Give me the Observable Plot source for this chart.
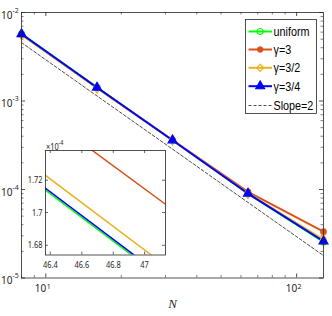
<!DOCTYPE html>
<html><head><meta charset="utf-8">
<script src="https://cdn.jsdelivr.net/npm/d3@7"></script>
<script src="https://cdn.jsdelivr.net/npm/@observablehq/plot@0.6"></script>
<style>
body{margin:0;background:#fff}
#chart{position:relative;width:332px;height:316px;overflow:hidden;font-family:"Liberation Sans",Arial,sans-serif}
#chart svg{position:absolute;left:0;top:0}
</style></head><body><div id="chart"></div>
<script>
// ---- data ----
const N = [8, 16, 32, 64, 128];
const uniform  = [5.75e-3, 1.43e-3, 3.599e-4, 8.996e-5, 2.55e-5];
const gamma3   = [5.62e-3, 1.41e-3, 3.629e-4, 9.39e-5, 3.34e-5];
const gamma3_2 = [5.62e-3, 1.40e-3, 3.618e-4, 9.045e-5, 2.72e-5];
const gamma3_4 = [5.72e-3, 1.42e-3, 3.601e-4, 9.003e-5, 2.60e-5];
const slope2   = [4.57e-3, 1.14e-3, 2.86e-4, 7.14e-5, 1.79e-5];
const seriesNames = ["uniform", "γ=3", "γ=3/2", "γ=3/4"];
const slopeName = "Slope=2";
const colors = ["#00ff00", "#d95319", "#edb120", "#0000ff"];
const xTicks = [10, 100];
const yTicks = [1e-5, 1e-4, 1e-3, 1e-2];
const xLabel = "N";
const insetXTicks = [46.4, 46.6, 46.8, 47];
const insetYTicks = [1.68e-4, 1.70e-4, 1.72e-4];
const insetXDomain = [46.37, 47.134];
const insetYDomain = [1.6741e-4, 1.7386e-4];
const insetExponent = "-4";

// ---- build tables ----
const seriesValues = [uniform, gamma3, gamma3_2, gamma3_4];
const rows = [];
seriesNames.forEach((s, i) => N.forEach((n, j) => rows.push({series: s, N: n, err: seriesValues[i][j]})));
const slopeRows = N.map((n, j) => ({N: n, err: slope2[j]}));
const bySeries = s => rows.filter(r => r.series === s);

const minorX = [];
for (const base of [1, 10]) for (let m = 2; m <= 9; m++) { const v = m * base; if (v >= 8 && v <= 128 && !xTicks.includes(v)) minorX.push(v); }
const minorY = [];
for (const base of [1e-5, 1e-4, 1e-3]) for (let m = 2; m <= 9; m++) minorY.push(m * base);

const W = 332, H = 316;
const mL = 21, mR = 9, mT = 12, mB = 38.5;
const pW = W - mL - mR, pH = H - mT - mB;
const axisColor = "#262626";
const majorLen = 4, minorLen = 2.5;

const tickMarks = (xs, ys, len, plotW, plotH, sw) => [
  Plot.ruleX(xs, {x: d => d, insetTop: plotH - len, stroke: axisColor, strokeWidth: sw}),
  Plot.ruleX(xs, {x: d => d, insetBottom: plotH - len, stroke: axisColor, strokeWidth: sw}),
  Plot.ruleY(ys, {y: d => d, insetRight: plotW - len, stroke: axisColor, strokeWidth: sw}),
  Plot.ruleY(ys, {y: d => d, insetLeft: plotW - len, stroke: axisColor, strokeWidth: sw})
];

const main = Plot.plot({
  width: W, height: H, marginLeft: mL, marginRight: mR, marginTop: mT, marginBottom: mB,
  style: "background:transparent;overflow:visible",
  x: {type: "log", domain: [8, 128], axis: null},
  y: {type: "log", domain: [1e-5, 1e-2], axis: null},
  color: {domain: seriesNames, range: colors},
  marks: [
    ...tickMarks(xTicks, yTicks, majorLen, pW, pH, 0.8),
    ...tickMarks(minorX, minorY, minorLen, pW, pH, 0.6),
    Plot.line(rows, {x: "N", y: "err", stroke: "series", z: "series", strokeWidth: 2}),
    Plot.dot(bySeries(seriesNames[0]), {x: "N", y: "err", r: 3, stroke: colors[0], fill: "none", strokeWidth: 1.2}),
    Plot.dot(bySeries(seriesNames[1]), {x: "N", y: "err", r: 2.6, fill: colors[1], stroke: colors[1]}),
    Plot.dot(bySeries(seriesNames[2]), {x: "N", y: "err", symbol: "diamond", r: 3.2, stroke: colors[2], fill: "none", strokeWidth: 1.2}),
    Plot.dot(bySeries(seriesNames[3]), {x: "N", y: "err", symbol: "triangle", r: 3.3, stroke: colors[3], fill: colors[3], strokeWidth: 1.2}),
    Plot.line(slopeRows, {x: "N", y: "err", stroke: "#000", strokeWidth: 0.7, strokeDasharray: "3,2"}),
    Plot.frame({stroke: axisColor, strokeWidth: 0.8}),
    // y tick labels 10^k
    Plot.text(yTicks, {y: d => d, frameAnchor: "left", text: () => "10", textAnchor: "end", dx: -9, dy: 3, fontSize: 10, fill: axisColor}),
    Plot.text(yTicks, {y: d => d, frameAnchor: "left", text: d => String(Math.round(Math.log10(d))), textAnchor: "start", dx: -9, dy: -2, fontSize: 7, fill: axisColor}),
    // x tick labels
    Plot.text(xTicks, {x: d => d, frameAnchor: "bottom", text: () => "10", textAnchor: "end", dx: 0.5, dy: 14, fontSize: 10, fill: axisColor}),
    Plot.text(xTicks, {x: d => d, frameAnchor: "bottom", text: d => String(Math.round(Math.log10(d))), textAnchor: "start", dx: 1, dy: 10.5, fontSize: 7, fill: axisColor}),
    Plot.text([xLabel], {frameAnchor: "bottom", text: d => d, dy: 30, fontSize: 13, fontStyle: "italic", fontFamily: "Liberation Serif, serif", fill: axisColor})
  ]
});

// ---- inset ----
const iL = 45, iR = 165, iT = 150, iB = 254.5;
const ipW = iR - iL, ipH = iB - iT;
const inset = Plot.plot({
  width: W, height: H, marginLeft: iL, marginRight: W - iR, marginTop: iT, marginBottom: H - iB,
  style: "background:transparent;overflow:visible",
  x: {type: "log", domain: insetXDomain, axis: null},
  y: {type: "log", domain: insetYDomain, axis: null},
  color: {domain: seriesNames, range: colors},
  marks: [
    Plot.frame({fill: "white", stroke: "none"}),
    Plot.line(rows, {x: "N", y: "err", stroke: "series", z: "series", strokeWidth: 1.5, clip: true}),
    ...tickMarks(insetXTicks, insetYTicks, 3, ipW, ipH, 0.7),
    Plot.frame({stroke: axisColor, strokeWidth: 0.8}),
    Plot.text(insetYTicks, {y: d => d, frameAnchor: "left", text: d => String(+(d * 1e4).toFixed(2)), textAnchor: "end", dx: -3, fontSize: 9.5, fill: axisColor, className: "sq"}),
    Plot.text(insetXTicks, {x: d => d, frameAnchor: "bottom", text: d => String(d), dy: 13, fontSize: 9.5, fill: axisColor, className: "sq"}),
    Plot.text(["×10"], {frameAnchor: "top-left", text: d => d, textAnchor: "start", dx: 0.5, dy: -7, fontSize: 9.5, fill: axisColor, className: "sq"}),
    Plot.text([insetExponent], {frameAnchor: "top-left", text: d => d, textAnchor: "start", dx: 13, dy: -10.5, fontSize: 7, fill: axisColor, className: "sq"})
  ]
});

const chart = document.getElementById("chart");
chart.appendChild(main);
chart.appendChild(inset);

// horizontally condense inset text
function squeeze(root, k) {
  root.querySelectorAll("text").forEach(t => {
    const anchor = getComputedStyle(t).textAnchor;
    const g = document.createElementNS("http://www.w3.org/2000/svg", "g");
    t.parentNode.insertBefore(g, t); g.appendChild(t);
    const b = g.getBBox();
    const px = anchor === "end" ? b.x + b.width : anchor === "middle" ? b.x + b.width / 2 : b.x;
    g.setAttribute("transform", `translate(${px},0) scale(${k},1) translate(${-px},0)`);
  });
}
squeeze(inset, 0.78);

// ---- legend (d3) ----
const leg = d3.select(chart).append("svg").attr("width", W).attr("height", H);
const lx = 245.5, ly = 19.5, lw = 71, lh = 94;
leg.append("rect").attr("x", lx).attr("y", ly).attr("width", lw).attr("height", lh)
  .attr("fill", "white").attr("stroke", axisColor).attr("stroke-width", 0.8);
const entryY = [31.5, 49.5, 67.8, 86.2, 105.5];
const symbols = [
  {type: d3.symbolCircle, r: 3, fill: "none"},
  {type: d3.symbolCircle, r: 2.6, fill: colors[1]},
  {type: d3.symbolDiamond2, r: 3.2, fill: "none"},
  {type: d3.symbolTriangle, r: 3.3, fill: colors[3]}
];
const labels = [...seriesNames, slopeName];
labels.forEach((name, i) => {
  const y = entryY[i];
  const isSlope = i === 4;
  leg.append("line").attr("x1", 248.5).attr("x2", 272).attr("y1", y).attr("y2", y)
    .attr("stroke", isSlope ? "#000" : colors[i]).attr("stroke-width", isSlope ? 0.7 : 2)
    .attr("stroke-dasharray", isSlope ? "3,2" : null);
  if (!isSlope) {
    const s = symbols[i];
    leg.append("path").attr("d", d3.symbol(s.type, Math.PI * s.r * s.r)())
      .attr("transform", `translate(260.2,${y})`)
      .attr("fill", s.fill).attr("stroke", colors[i]).attr("stroke-width", 1.2);
  }
  leg.append("text").attr("transform", `translate(273.5,${y}) scale(0.83,1)`)
    .attr("dy", "0.35em").attr("font-size", 13).attr("fill", "#000").text(name);
});
</script></body></html>
